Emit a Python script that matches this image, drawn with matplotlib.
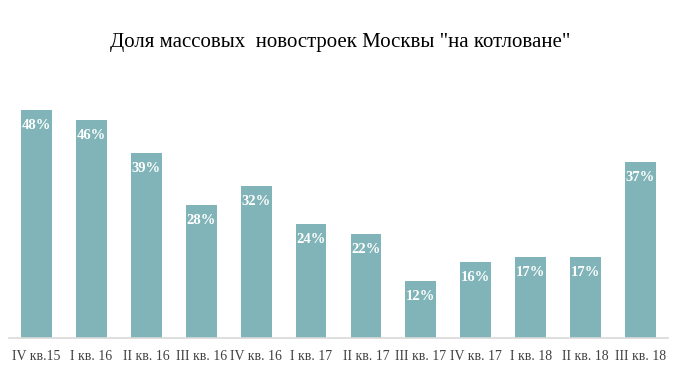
import matplotlib.pyplot as plt

quarters = ["IV кв.15", "I кв. 16", "II кв. 16", "III кв. 16", "IV кв. 16", "I кв. 17",
            "II кв. 17", "III кв. 17", "IV кв. 17", "I кв. 18", "II кв. 18", "III кв. 18"]
shares = [48, 46, 39, 28, 32, 24, 22, 12, 16, 17, 17, 37]

plt.rcParams["font.family"] = ["Liberation Serif", "DejaVu Serif"]

fig = plt.figure(figsize=(6.83, 3.69), dpi=100)
ax = fig.add_axes([9 / 683, 31 / 369, 659 / 683, 237.5 / 369])

x = range(len(quarters))
ax.bar(x, shares, width=0.56, color="#80b4b8")
for i, v in zip(x, shares):
    ax.text(i, v - 3.3, f"{v}%", ha="center", va="center", color="white",
            fontsize=10.5, fontweight="bold")

ax.set_xlim(-0.5, len(quarters) - 0.5)
ax.set_ylim(0, 50)
ax.set_xticks(list(x))
ax.set_xticklabels(quarters, fontsize=10, color="#404040")
ax.tick_params(axis="x", length=0, pad=9)
ax.set_yticks([])
for s in ["top", "right", "left"]:
    ax.spines[s].set_visible(False)
ax.spines["bottom"].set_color("#d9d9d9")
ax.spines["bottom"].set_linewidth(1.2)

fig.text(340 / 683, 1 - 42 / 369, 'Доля массовых  новостроек Москвы "на котловане"',
         ha="center", va="center", fontsize=15, color="black")

fig.savefig("out.png", dpi=100)
